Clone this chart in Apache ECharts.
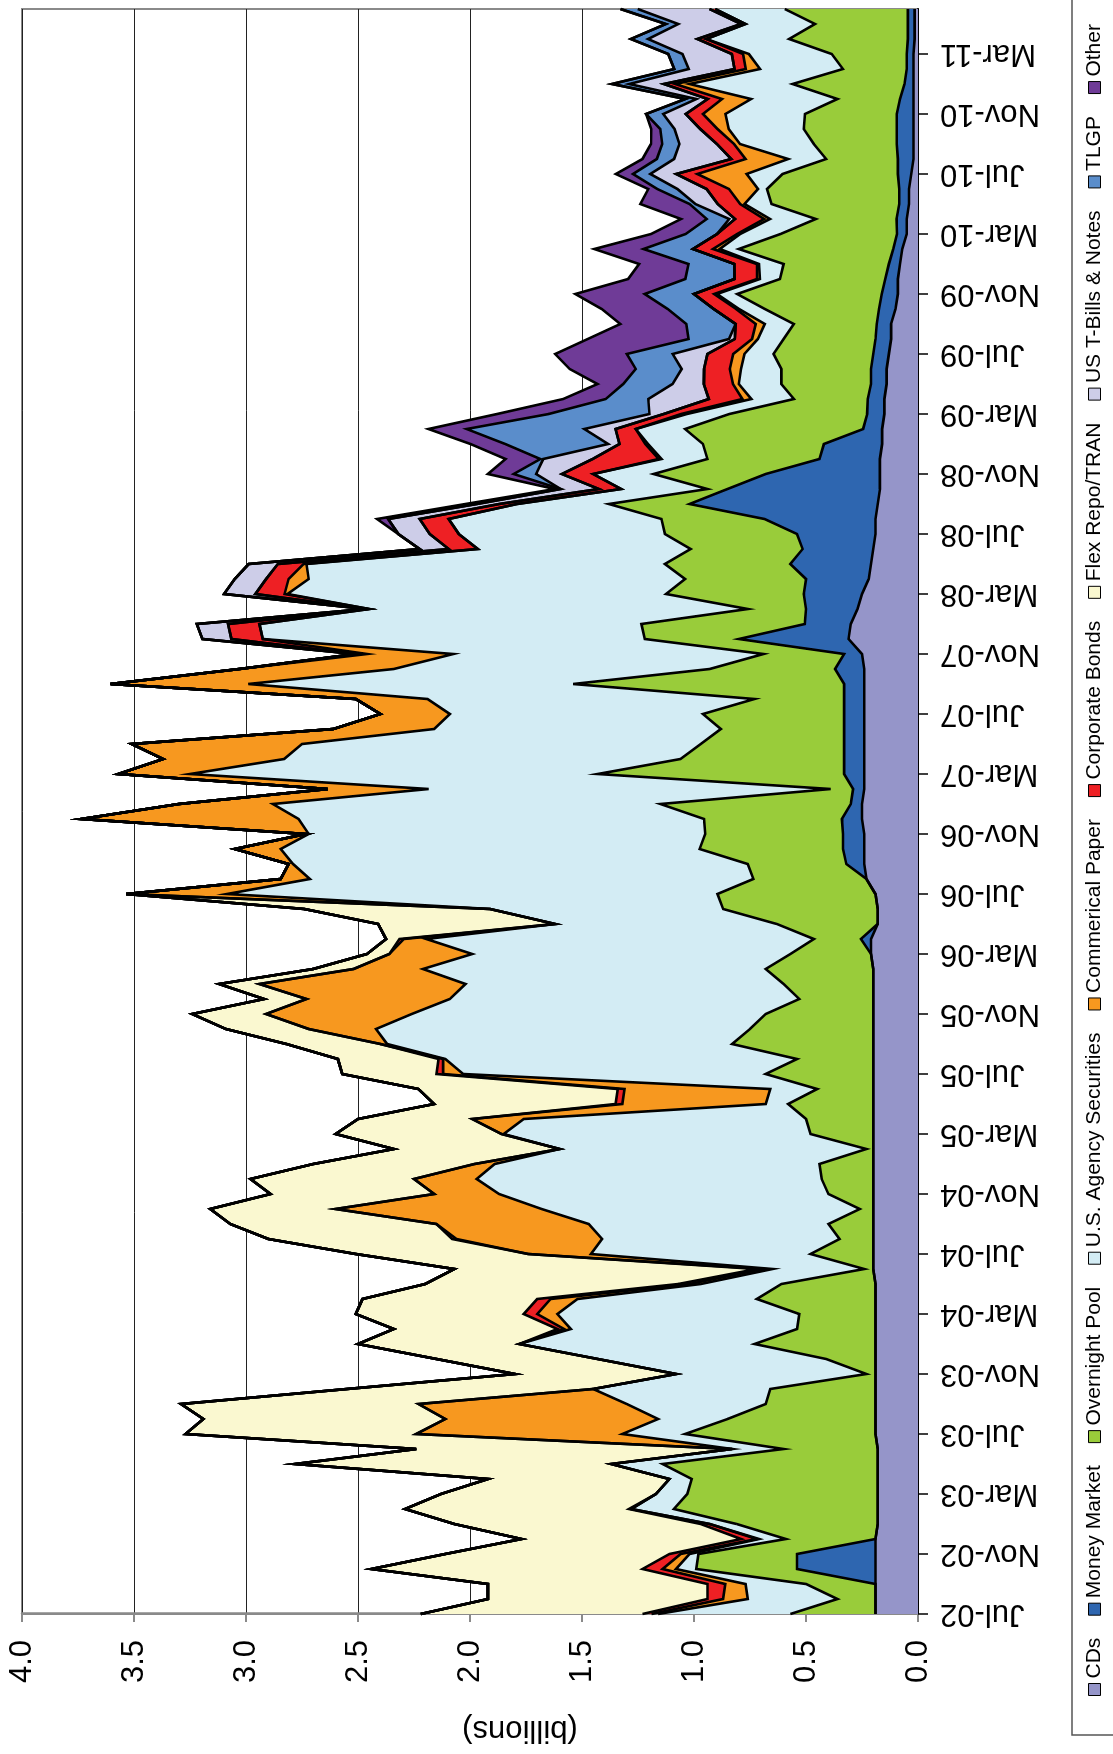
<!DOCTYPE html>
<html>
<head>
<meta charset="utf-8">
<script src="https://cdn.jsdelivr.net/npm/echarts@6/dist/echarts.min.js"></script>
<style>
html,body{margin:0;padding:0;width:1113px;height:1754px;overflow:hidden;background:#fff;}
#wrap{position:absolute;left:0;top:0;width:1754px;height:1113px;transform-origin:0 0;transform:translateY(1754px) rotate(-90deg);}
#chart{width:1754px;height:1113px;}
</style>
</head>
<body>
<div id="wrap"><div id="chart"></div></div>
<script>
const months = [
 'Jul-02','Aug-02','Sep-02','Oct-02','Nov-02','Dec-02','Jan-03','Feb-03','Mar-03','Apr-03','May-03','Jun-03',
 'Jul-03','Aug-03','Sep-03','Oct-03','Nov-03','Dec-03','Jan-04','Feb-04','Mar-04','Apr-04','May-04','Jun-04',
 'Jul-04','Aug-04','Sep-04','Oct-04','Nov-04','Dec-04','Jan-05','Feb-05','Mar-05','Apr-05','May-05','Jun-05',
 'Jul-05','Aug-05','Sep-05','Oct-05','Nov-05','Dec-05','Jan-06','Feb-06','Mar-06','Apr-06','May-06','Jun-06',
 'Jul-06','Aug-06','Sep-06','Oct-06','Nov-06','Dec-06','Jan-07','Feb-07','Mar-07','Apr-07','May-07','Jun-07',
 'Jul-07','Aug-07','Sep-07','Oct-07','Nov-07','Dec-07','Jan-08','Feb-08','Mar-08','Apr-08','May-08','Jun-08',
 'Jul-08','Aug-08','Sep-08','Oct-08','Nov-08','Dec-08','Jan-09','Feb-09','Mar-09','Apr-09','May-09','Jun-09',
 'Jul-09','Aug-09','Sep-09','Oct-09','Nov-09','Dec-09','Jan-10','Feb-10','Mar-10','Apr-10','May-10','Jun-10',
 'Jul-10','Aug-10','Sep-10','Oct-10','Nov-10','Dec-10','Jan-11','Feb-11','Mar-11','Apr-11','May-11','Jun-11'
];
const valueTicks = [0, 0.5, 1.0, 1.5, 2.0, 2.5, 3.0, 3.5, 4.0];

const cds = [
 0.19,0.19,0.19,0.19,0.19,0.19,0.18,0.18,0.18,0.18,0.18,0.18,
 0.19,0.19,0.19,0.19,0.19,0.19,0.19,0.19,0.19,0.19,0.19,0.20,
 0.20,0.20,0.20,0.20,0.20,0.20,0.20,0.20,0.20,0.20,0.20,0.20,
 0.20,0.20,0.20,0.20,0.20,0.20,0.20,0.20,0.21,0.21,0.18,0.18,
 0.19,0.23,0.24,0.24,0.24,0.25,0.25,0.24,0.24,0.24,0.24,0.24,
 0.24,0.24,0.24,0.24,0.25,0.31,0.30,0.27,0.25,0.22,0.21,0.20,
 0.19,0.19,0.18,0.17,0.17,0.17,0.16,0.16,0.15,0.15,0.14,0.14,
 0.13,0.12,0.12,0.10,0.09,0.09,0.08,0.07,0.05,0.05,0.04,0.04,
 0.03,0.02,0.02,0.02,0.02,0.02,0.02,0.02,0.02,0.015,0.015,0.015
];
const moneyMarket = [
 0,0,0,0.35,0.35,0,0,0,0,0,0,0,
 0,0,0,0,0,0,0,0,0,0,0,0,
 0,0,0,0,0,0,0,0,0,0,0,0,
 0,0,0,0,0,0,0,0,0,0.045,0,0,
 0,0,0.08,0.095,0.095,0.09,0.05,0.05,0.09,0.09,0.09,0.09,
 0.09,0.09,0.09,0.13,0.08,0.49,0.205,0.23,0.26,0.28,0.36,0.315,
 0.35,0.495,0.84,0.68,0.51,0.27,0.26,0.085,0.077,0.074,0.07,0.07,
 0.07,0.07,0.064,0.074,0.072,0.056,0.05,0.04,0.044,0.046,0.044,0.044,
 0.06,0.07,0.075,0.075,0.075,0.06,0.04,0.03,0.03,0.03,0.03,0.03
];
const overnightPool = [
 0.38,0.17,0.31,0.45,0.44,0.40,0.63,0.91,0.85,0.83,0.96,0.42,
 0.85,0.66,0.49,0.47,0.04,0.22,0.54,0.35,0.34,0.53,0.42,0.04,
 0.28,0.15,0.20,0.06,0.20,0.23,0.24,0.03,0.28,0.30,0.38,0.25,
 0.48,0.34,0.63,0.55,0.48,0.33,0.40,0.48,0.36,0.21,0.45,0.69,
 0.705,0.505,0.44,0.64,0.615,0.615,0.85,0.10,1.10,0.73,0.64,0.55,
 0.63,0.40,1.21,0.56,0.36,0.42,0.73,0.26,0.615,0.54,0.56,0.50,
 0.59,0.46,0.36,0.09,0.50,0.50,0.54,0.795,0.615,0.33,0.40,0.40,
 0.445,0.41,0.37,0.51,0.645,0.47,0.47,0.69,0.52,0.36,0.57,0.59,
 0.515,0.32,0.37,0.415,0.41,0.28,0.50,0.285,0.335,0.53,0.415,0.55
];
const agency = [
 0.59,0.40,0.27,0.09,0.04,0.12,0.12,0.19,0.14,0.10,0.23,0.23,
 0.28,0.31,0.62,0.79,0.85,1.02,1.05,1.01,1.08,0.80,0.36,0.41,
 0.98,1.06,1.07,1.42,1.47,1.54,1.45,1.37,1.37,1.26,0.10,0.21,
 1.35,1.57,1.54,1.67,1.58,1.56,1.42,1.53,1.42,1.73,0.99,1.04,
 2.19,1.98,2.03,1.87,1.77,1.81,1.73,1.795,1.82,1.77,1.78,1.28,
 1.13,1.46,1.45,1.41,1.385,1.705,1.705,1.69,1.69,1.68,1.60,0.95,
 0.92,0.95,0.41,0.385,0.27,0.205,0.245,0.22,0.19,0.19,0.19,0.18,
 0.13,0.115,0.13,0.115,0.09,0.09,0.11,0.085,0.18,0.205,0.12,0.04,
 0.16,0.17,0.33,0.335,0.355,0.385,0.46,0.37,0.37,0.37,0.31,0.31
];
const commercialPaper = [
 0.03,0.11,0.09,0.06,0.04,0.01,0,0,0,0,0,0,
 0.92,0.95,0.93,0,0,0,0,0.03,0.09,0.12,0.05,0.04,
 0.28,0.65,0.68,0.92,0.29,0.28,0.09,0,0.01,0.23,0.64,0.65,
 0.09,0.01,0.03,0.30,0.65,0.64,0.92,0.31,0.37,0.10,0,0,
 0.45,0.13,0.02,0.205,0.013,0.97,0.42,0.45,0.32,0.54,0.76,0.45,
 0.31,0.32,0.615,0.69,0.385,0,0,0,0.013,0.09,0.013,0,
 0,0,0,0,0,0.013,0.013,0,0.026,0.04,0.026,0.05,
 0.05,0.026,0.04,0.013,0.013,0.013,0.01,0.03,0.013,0.026,0.02,0.13,
 0.22,0.19,0.026,0.05,0.10,0.13,0.064,0.064,0.026,0,0,0
];
const corporateBonds = [
 0.04,0.07,0.08,0.09,0.05,0.07,0.04,0.01,0,0,0,0,
 0,0,0,0,0,0,0,0.03,0.06,0.06,0.05,0.03,
 0,0.02,0,0,0,0,0,0,0,0,0.03,0.03,
 0.03,0.02,0,0,0,0,0,0,0,0.02,0,0,
 0,0,0,0,0,0,0,0,0,0,0,0,
 0,0,0,0,0.05,0.14,0.14,0.01,0.13,0.10,0.115,0.13,
 0.13,0.13,0.08,0.10,0.14,0.295,0.115,0.09,0.077,0.15,0.13,0.115,
 0.115,0.077,0.09,0.10,0.09,0.10,0.10,0.09,0.09,0.13,0.10,0.10,
 0.095,0.064,0.077,0.077,0.077,0.064,0.05,0.05,0.05,0.04,0.02,0.026
];
const flexRepo = [
 0.99,0.98,0.98,1.21,1.00,0.98,1.10,1.00,0.96,0.81,1.41,1.41,
 1.03,1.08,1.06,1.10,0.72,0.72,0.72,0.73,0.75,0.78,1.13,1.35,
 0.77,0.82,0.92,0.56,0.73,0.73,0.72,0.74,0.74,0.51,0.81,0.89,
 0.42,0.45,0.42,0.37,0.33,0.19,0.18,0.18,0.10,0.06,0.79,0.83,
 0,0,0,0,0,0,0,0,0,0,0,0,
 0,0,0,0,0,0,0,0,0,0,0,0,
 0,0,0,0,0,0,0,0,0,0,0,0,
 0,0,0,0,0,0,0,0,0,0,0,0,
 0,0,0,0,0,0,0,0,0,0,0,0
];
const tBills = [
 0,0,0,0,0,0,0,0,0,0,0,0,
 0,0,0,0,0,0,0,0,0,0,0,0,
 0,0,0,0,0,0,0,0,0,0,0,0,
 0,0,0,0,0,0,0,0,0,0,0,0,
 0,0,0,0,0,0,0,0,0,0,0,0,
 0,0,0,0,0,0.13,0.14,0.005,0.14,0.14,0.13,0.13,
 0.14,0.14,0.10,0.17,0.115,0.22,0.05,0.14,0.064,0.27,0.14,0.10,
 0.155,0.026,0,0,0,0,0,0,0,0.026,0.10,0.13,
 0.115,0.255,0.167,0.115,0.10,0.05,0.155,0.205,0.22,0.22,0.28,0.32
];
const tlgp = [
 0,0,0,0,0,0,0,0,0,0,0,0,
 0,0,0,0,0,0,0,0,0,0,0,0,
 0,0,0,0,0,0,0,0,0,0,0,0,
 0,0,0,0,0,0,0,0,0,0,0,0,
 0,0,0,0,0,0,0,0,0,0,0,0,
 0,0,0,0,0,0,0,0,0,0,0,0,
 0,0,0,0,0.10,0.013,0.46,0.525,0.45,0.19,0.22,0.205,
 0.205,0.18,0.22,0.205,0.22,0.22,0.205,0.22,0.14,0.10,0.026,0.09,
 0.077,0.077,0.077,0.064,0.077,0.05,0.077,0.064,0.064,0.077,0.056,0.077
];
const other = [
 0,0,0,0,0,0,0,0,0,0,0,0,
 0,0,0,0,0,0,0,0,0,0,0,0,
 0,0,0,0,0,0,0,0,0,0,0,0,
 0,0,0,0,0,0,0,0,0,0,0,0,
 0,0,0,0,0,0,0,0,0,0,0,0,
 0,0,0,0,0,0,0,0,0,0,0,0,
 0,0.05,0.05,0.026,0.115,0.155,0.155,0.17,0.23,0.19,0.115,0.295,
 0.32,0.45,0.295,0.295,0.31,0.255,0.22,0.22,0.155,0.115,0.22,0.04,
 0.077,0.064,0.05,0.04,0,0,0,0,0,0,0,0
];

const seriesNames = ['CDs','Money Market','Overnight Pool','U.S. Agency Securities','Commerical Paper','Corporate Bonds','Flex Repo/TRAN','US T-Bills & Notes','TLGP','Other'];
const seriesData = [cds, moneyMarket, overnightPool, agency, commercialPaper, corporateBonds, flexRepo, tBills, tlgp, other];
const seriesColors = ['#9595C9','#2E66B0','#99CC3A','#D3ECF4','#F7981F','#EE2024','#FAF8D0','#CDCDE8','#5A8DCB','#6F3B97'];

const FONT = '"Liberation Sans", Arial, sans-serif';
const series = [];
seriesNames.forEach((n, k) => {
  series.push({
    name: n, type: 'line', stack: 'area', data: seriesData[k],
    symbol: 'none', z: 2,
    lineStyle: { width: 0, opacity: 0 },
    itemStyle: { color: seriesColors[k], borderColor: '#000', borderWidth: 1 },
    areaStyle: { color: seriesColors[k], opacity: 1 },
    emphasis: { disabled: true }
  });
});
seriesNames.forEach((n, k) => {
  series.push({
    name: n + ' outline', type: 'line', stack: 'outline', data: seriesData[k],
    symbol: 'none', z: 3,
    lineStyle: { width: 2.6, color: '#000', join: 'miter' },
    emphasis: { disabled: true }
  });
});

const chart = echarts.init(document.getElementById('chart'), null, { renderer: 'canvas' });
chart.setOption({
  animation: false,
  backgroundColor: '#fff',
  grid: { left: 140, right: 9, top: 22, bottom: 195, show: true, borderColor: '#8a8a8a', borderWidth: 2, backgroundColor: 'transparent' },
  legend: {
    data: seriesNames, left: 58, top: 1084, padding: 0,
    icon: 'rect', itemWidth: 12, itemHeight: 12, itemGap: 22,
    textStyle: { fontFamily: FONT, fontSize: 21, color: '#000' },
    itemStyle: { borderColor: '#000', borderWidth: 1 },
    selectedMode: false
  },
  xAxis: {
    type: 'category', data: months, boundaryGap: false,
    axisLine: { show: true, lineStyle: { color: '#000', width: 2 } },
    axisTick: { show: true, interval: 3, length: 10, lineStyle: { color: '#000', width: 1.5 } },
    axisLabel: { interval: 3, rotate: 90, margin: 22, fontFamily: FONT, fontSize: 31, color: '#000' },
    splitLine: { show: false }
  },
  yAxis: {
    type: 'value', min: valueTicks[0], max: valueTicks[valueTicks.length - 1], interval: 0.5,
    axisLine: { show: true, lineStyle: { color: '#8a8a8a', width: 2.5 } },
    axisTick: { show: true, length: 8, lineStyle: { color: '#8a8a8a', width: 2 } },
    axisLabel: { margin: 26, fontFamily: FONT, fontSize: 31, color: '#000', formatter: v => v.toFixed(1) },
    splitLine: { show: true, lineStyle: { color: '#222', width: 1 } }
  },
  graphic: [
    { type: 'text', x: 24, y: 520, rotation: Math.PI / 2,
      style: { text: '(billions)', fontFamily: FONT, fontSize: 31, fill: '#000', textAlign: 'center', textVerticalAlign: 'middle' } },
    { type: 'rect', shape: { x: 19, y: 1072, width: 1800, height: 100 },
      style: { fill: 'none', stroke: '#555', lineWidth: 1.5 }, z: 10 }
  ],
  series: series
});
</script>
</body>
</html>
